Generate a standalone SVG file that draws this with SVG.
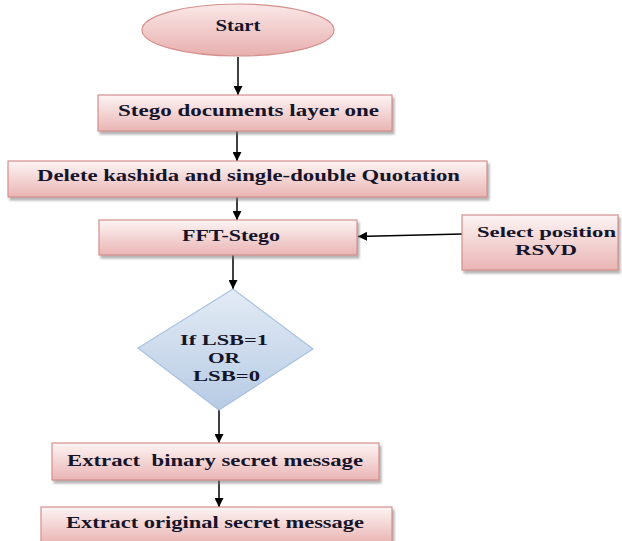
<svg xmlns="http://www.w3.org/2000/svg" width="622" height="541" viewBox="0 0 622 541">
<style>
.box{fill:url(#pink);stroke:#d4908e;stroke-width:1.2;filter:url(#sh)}
.lbl{font-family:"Liberation Serif",serif;font-weight:bold;font-size:17px;fill:#14142a;text-anchor:middle}
.ml{font-size:14.5px}
.con{stroke:#000;stroke-width:1.5;fill:none;marker-end:url(#ah)}
</style>
<defs>
<linearGradient id="pink" x1="0" y1="0" x2="0" y2="1">
<stop offset="0" stop-color="#fdf4f4"/>
<stop offset="1" stop-color="#e9b5b4"/>
</linearGradient>
<linearGradient id="pinkE" x1="0" y1="0" x2="0" y2="1">
<stop offset="0" stop-color="#fbe8e8"/>
<stop offset="1" stop-color="#e7afae"/>
</linearGradient>
<linearGradient id="blue" x1="0" y1="0" x2="0" y2="1">
<stop offset="0" stop-color="#e3ebf5"/>
<stop offset="1" stop-color="#b7cbe4"/>
</linearGradient>
<filter id="sh" x="-10%" y="-20%" width="120%" height="150%">
<feDropShadow dx="2" dy="3" stdDeviation="1.2" flood-color="#777" flood-opacity="0.55"/>
</filter>
<marker id="ah" viewBox="0 0 10 10" refX="10" refY="5" markerWidth="6" markerHeight="6" markerUnits="strokeWidth" orient="auto">
<path d="M0,0 L10,5 L0,10 z" fill="#000"/>
</marker>
</defs>
<g id="connectors">
<line class="con" x1="238" y1="57" x2="238" y2="95"/>
<line class="con" x1="237" y1="131" x2="237" y2="161"/>
<line class="con" x1="237" y1="197" x2="237" y2="220"/>
<line class="con" x1="233" y1="255" x2="233" y2="289"/>
<line class="con" x1="219" y1="410" x2="219" y2="443"/>
<line class="con" x1="219" y1="480" x2="219" y2="507"/>
<line class="con" x1="462" y1="234" x2="358" y2="236.5"/>
</g>
<g id="start">
<ellipse cx="238" cy="30" rx="96" ry="26" fill="url(#pinkE)" stroke="#d4908e" stroke-width="1.2"/>
<text class="lbl" x="238" y="31" textLength="45" lengthAdjust="spacingAndGlyphs">Start</text>
</g>
<g id="stego-docs">
<rect class="box" x="98" y="95" width="294" height="36"/>
<text class="lbl" x="248.5" y="116" textLength="261" lengthAdjust="spacingAndGlyphs">Stego documents layer one</text>
</g>
<g id="delete">
<rect class="box" x="8" y="161" width="479" height="36"/>
<text class="lbl" x="248.5" y="181" textLength="423" lengthAdjust="spacingAndGlyphs">Delete kashida and single-double Quotation</text>
</g>
<g id="fft">
<rect class="box" x="99" y="220" width="258" height="35"/>
<text class="lbl" x="231" y="241" textLength="98" lengthAdjust="spacingAndGlyphs">FFT-Stego</text>
</g>
<g id="select">
<rect class="box" x="462" y="215" width="156" height="55"/>
<text class="lbl ml" x="546.5" y="237" textLength="139" lengthAdjust="spacingAndGlyphs">Select position</text>
<text class="lbl ml" x="546" y="255" textLength="62" lengthAdjust="spacingAndGlyphs">RSVD</text>
</g>
<g id="decision">
<polygon points="233,289 313,349 219,410 138,348" fill="url(#blue)" stroke="#a9c1e0" stroke-width="1.2"/>
<text class="lbl ml" x="224" y="345" textLength="88" lengthAdjust="spacingAndGlyphs">If LSB=1</text>
<text class="lbl ml" x="224" y="363" textLength="32" lengthAdjust="spacingAndGlyphs">OR</text>
<text class="lbl ml" x="226.5" y="381" textLength="67" lengthAdjust="spacingAndGlyphs">LSB=0</text>
</g>
<g id="extract-binary">
<rect class="box" x="52" y="443" width="327" height="37"/>
<text class="lbl" x="215" y="466" textLength="296" lengthAdjust="spacingAndGlyphs" xml:space="preserve">Extract  binary secret message</text>
</g>
<g id="extract-original">
<rect class="box" x="41" y="507" width="351" height="36"/>
<text class="lbl" x="215" y="528" textLength="298" lengthAdjust="spacingAndGlyphs">Extract original secret message</text>
</g>
</svg>
